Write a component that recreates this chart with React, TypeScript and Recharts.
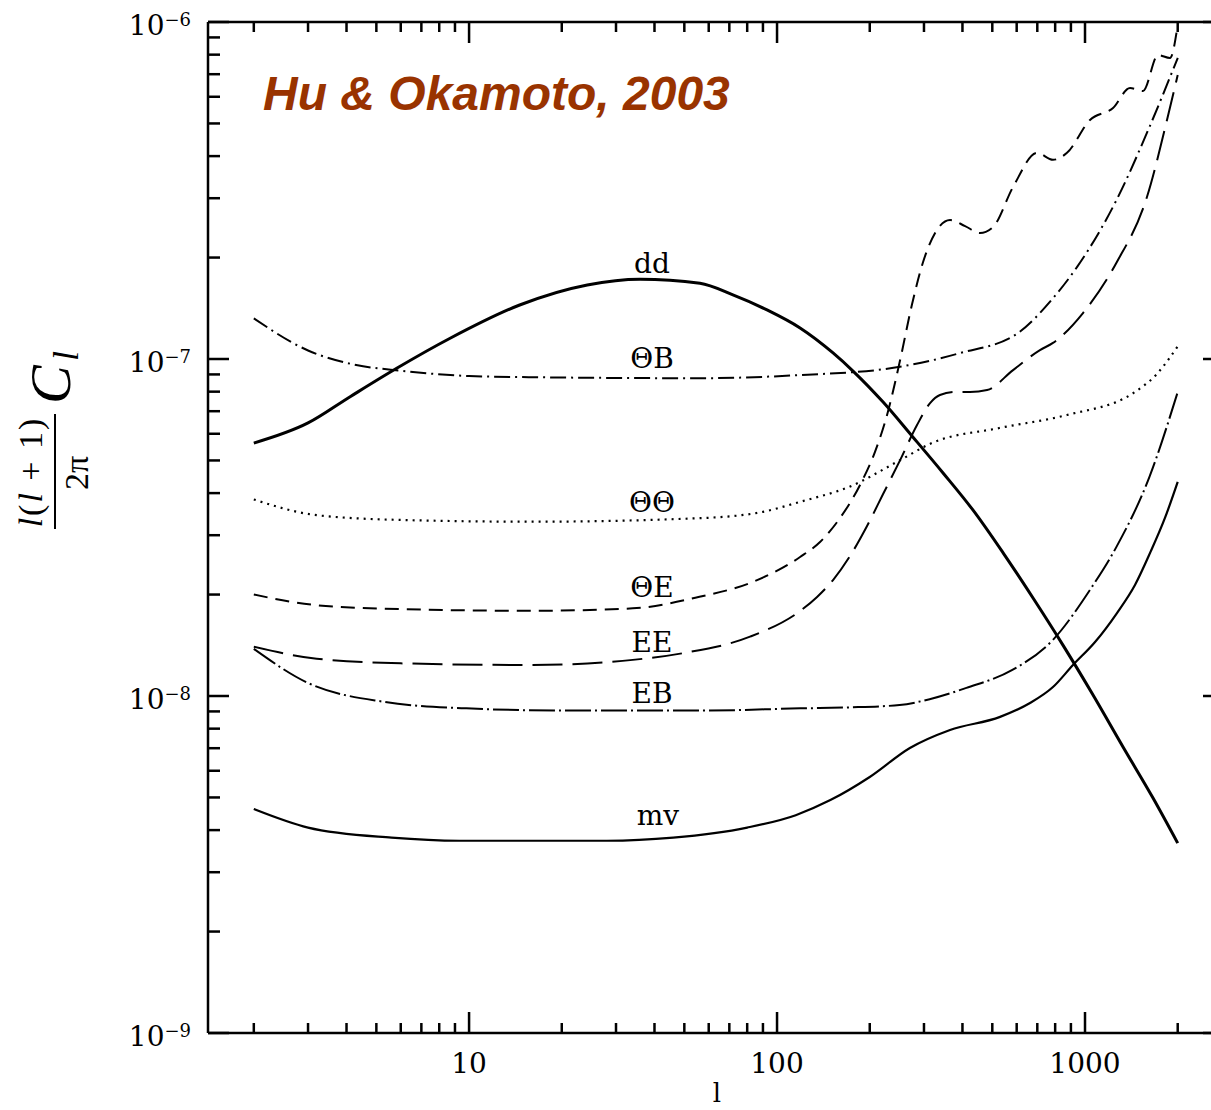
import { LineChart, Line, XAxis, YAxis, Customized } from "recharts"

// [l, l(l+1)C_l/2pi]
const dd = [
  [2, 5.63e-8], [3, 6.46e-8], [4.11, 7.73e-8], [5.84, 9.4e-8], [8.68, 1.152e-7], [14.6, 1.446e-7],
  [24.2, 1.658e-7], [35.9, 1.724e-7], [56.2, 1.677e-7], [71.9, 1.549e-7], [92.8, 1.398e-7],
  [118.8, 1.236e-7], [152, 1.042e-7], [176.5, 9.21e-8], [221, 7.45e-8], [276, 5.87e-8],
  [346, 4.59e-8], [433, 3.56e-8], [542, 2.66e-8], [678, 1.953e-8], [848, 1.416e-8],
  [1062, 1.007e-8], [1329, 7.06e-9], [1663, 4.98e-9], [2000, 3.66e-9],
]
const thetaB = [
  [2, 1.32e-7], [3, 1.06e-7], [4.3, 9.6e-8], [6, 9.23e-8], [10, 8.9e-8], [16, 8.83e-8],
  [56, 8.77e-8], [119, 8.96e-8], [236, 9.4e-8], [391, 1.04e-7], [603, 1.19e-7], [780, 1.5e-7],
  [944, 1.88e-7], [1265, 2.96e-7], [1619, 4.88e-7], [2000, 7.82e-7],
]
const thetaTheta = [
  [2, 3.83e-8], [3.2, 3.44e-8], [6, 3.33e-8], [16, 3.29e-8], [56, 3.37e-8], [90, 3.52e-8],
  [119, 3.77e-8], [172, 4.18e-8], [250, 5.0e-8], [318, 5.63e-8], [527, 6.24e-8], [873, 6.82e-8],
  [1437, 7.93e-8], [1700, 8.97e-8], [2000, 1.09e-7],
]
const thetaE = [
  [2, 2.0e-8], [3.2, 1.86e-8], [6, 1.81e-8], [16, 1.79e-8], [34, 1.82e-8], [56, 1.97e-8],
  [81.7, 2.164e-8], [118.8, 2.585e-8], [137.9, 2.864e-8], [160.2, 3.375e-8], [186, 4.23e-8],
  [208, 5.3e-8], [229, 6.96e-8], [251, 9.93e-8], [274, 1.446e-7], [298, 1.94e-7], [326, 2.366e-7],
  [364.5, 2.585e-7], [408, 2.48e-7], [456, 2.366e-7], [503, 2.465e-7], [584, 3.24e-7],
  [699, 4.09e-7], [787, 3.9e-7], [874, 4.09e-7], [1038, 5.12e-7], [1233, 5.56e-7], [1400, 6.37e-7],
  [1543, 6.24e-7], [1726, 7.98e-7], [1888, 7.82e-7], [2000, 9.8e-7],
]
const ee = [
  [2, 1.4e-8], [3.2, 1.29e-8], [6, 1.25e-8], [16, 1.236e-8], [34, 1.28e-8], [49.5, 1.34e-8],
  [81.7, 1.5e-8], [118.8, 1.787e-8], [134.9, 1.967e-8], [152, 2.209e-8], [172.6, 2.603e-8],
  [196, 3.195e-8], [221, 3.975e-8], [251, 5.01e-8], [284.8, 6.37e-8], [314, 7.4e-8], [338, 7.82e-8],
  [378, 7.98e-8], [423, 7.98e-8], [481, 8.09e-8], [584, 9.27e-8], [714, 1.063e-7], [787, 1.116e-7],
  [985, 1.369e-7], [1265, 1.93e-7], [1590, 3.03e-7], [1846, 5.12e-7], [2000, 6.96e-7],
]
const eb = [
  [2, 1.38e-8], [3, 1.093e-8], [5.25, 9.62e-9], [9.8, 9.19e-9], [21, 9.05e-9], [56, 9.05e-9],
  [119, 9.19e-9], [170, 9.25e-9], [250, 9.4e-9], [315, 9.8e-9], [412, 1.057e-8], [581, 1.195e-8],
  [786, 1.466e-8], [1036, 2.06e-8], [1265, 2.77e-8], [1619, 4.47e-8], [2000, 7.98e-8],
]
const mv = [
  [2, 4.62e-9], [3, 4.07e-9], [5.6, 3.8e-9], [9.3, 3.72e-9], [28, 3.72e-9], [46, 3.8e-9],
  [80, 4.07e-9], [115, 4.43e-9], [149, 4.91e-9], [200, 5.75e-9], [270, 7.01e-9], [364.5, 7.93e-9],
  [530, 8.67e-9], [663, 9.53e-9], [787, 1.063e-8], [914, 1.236e-8], [1078, 1.446e-8],
  [1270, 1.763e-8], [1453, 2.135e-8], [1626, 2.656e-8], [1818, 3.375e-8], [2000, 4.32e-8],
]

const xTicks = [
  2, 3, 4, 5, 6, 7, 8, 9, 10, 20, 30, 40, 50, 60, 70, 80, 90,
  100, 200, 300, 400, 500, 600, 700, 800, 900, 1000, 2000,
]
const xMajor = [10, 100, 1000]
const yTicks = [
  1e-9, 2e-9, 3e-9, 4e-9, 5e-9, 6e-9, 7e-9, 8e-9, 9e-9,
  1e-8, 2e-8, 3e-8, 4e-8, 5e-8, 6e-8, 7e-8, 8e-8, 9e-8,
  1e-7, 2e-7, 3e-7, 4e-7, 5e-7, 6e-7, 7e-7, 8e-7, 9e-7, 1e-6,
]
const yMajor = [1e-9, 1e-8, 1e-7, 1e-6]

const curveNames = ["dd", "ΘB", "ΘΘ", "ΘE", "EE", "EB", "mv"]
const labelSpots = [
  [652, 273], [652, 368], [652, 512], [652, 597], [652, 652], [652, 703], [658, 825],
]

const rows = (pts: number[][]) => pts.map(([l, v]) => ({ l, v }))

const serif = "'DejaVu Serif', serif"
const mathFont = "'Liberation Serif', 'Times New Roman', serif"
const ink = "#000"
const xDomain = [1.42, 2827]
const yDomain = [1e-9, 1e-6]

// tickSize/tickMargin are 0, so x/y arrive on the axis line; marks are drawn inward from there
function BottomTick({ x, y, payload }: any) {
  const major = xMajor.includes(payload.value)
  return (
    <g>
      <line x1={x} y1={y} x2={x} y2={y - (major ? 21 : 10)} stroke={ink} strokeWidth={2.5} />
      {major && (
        <text x={x} y={y + 40} textAnchor="middle" fontFamily={serif} fontSize={28} fill={ink}>
          {payload.value}
        </text>
      )}
    </g>
  )
}

function TopTick({ x, y, payload }: any) {
  const major = xMajor.includes(payload.value)
  return <line x1={x} y1={y} x2={x} y2={y + (major ? 21 : 10)} stroke={ink} strokeWidth={2.5} />
}

function LeftTick({ x, y, payload }: any) {
  const major = yMajor.includes(payload.value)
  const exp = Math.round(Math.log10(payload.value))
  return (
    <g>
      <line x1={x} y1={y} x2={x + (major ? 21 : 12)} y2={y} stroke={ink} strokeWidth={2.5} />
      {major && (
        <text x={x - 17} y={y + 13} textAnchor="end" fontFamily={serif} fontSize={28} fill={ink}>
          10
          <tspan dy={-9} fontSize={18}>{"−" + Math.abs(exp)}</tspan>
        </text>
      )}
    </g>
  )
}

function RightTick({ x, y, payload }: any) {
  const major = yMajor.includes(payload.value)
  return <line x1={x} y1={y} x2={x - (major ? 21 : 12)} y2={y} stroke={ink} strokeWidth={2.5} />
}

function Overlay() {
  return (
    <g>
      <text
        x={263}
        y={110}
        fontFamily="'Liberation Sans', Arial, sans-serif"
        fontWeight="bold"
        fontStyle="italic"
        fontSize={48}
        fill="#993300"
      >
        {"Hu & Okamoto, 2003"}
      </text>

      {curveNames.map((name, i) => (
        <text
          key={name}
          x={labelSpots[i][0]}
          y={labelSpots[i][1]}
          textAnchor="middle"
          fontFamily={serif}
          fontSize={28}
          fill={ink}
        >
          {name}
        </text>
      ))}

      <text x={717} y={1102} textAnchor="middle" fontFamily={serif} fontSize={26} fill={ink}>
        l
      </text>

      <g transform="translate(0,472) rotate(-90)" fontFamily={mathFont} fill={ink}>
        <text x={0} y={42} textAnchor="middle" fontSize={34} letterSpacing={2}>
          <tspan fontStyle="italic">l</tspan>(<tspan fontStyle="italic">l</tspan> + 1)
        </text>
        <line x1={-57} y1={55} x2={58} y2={55} stroke={ink} strokeWidth={2} />
        <text x={-1} y={88} textAnchor="middle" fontSize={34}>
          2π
        </text>
        <text x={68} y={70} fontSize={58} fontStyle="italic">
          C
        </text>
        <text x={111} y={78} fontSize={36} fontStyle="italic">
          l
        </text>
      </g>
    </g>
  )
}

const axisLine = { stroke: ink, strokeWidth: 2.5 }

export default function App() {
  return (
    <div
      style={{
        position: "absolute",
        left: 0,
        top: 0,
        width: 1211,
        height: 1110,
        overflow: "hidden",
        background: "#fff",
      }}
    >
      <LineChart width={1250} height={1110} margin={{ top: 0, right: 0, bottom: 0, left: 0 }}>
        <XAxis
          xAxisId="bottom"
          dataKey="l"
          type="number"
          scale="log"
          domain={xDomain}
          allowDataOverflow
          ticks={xTicks}
          interval={0}
          height={77}
          tickSize={0}
          tickMargin={0}
          tickLine={false}
          axisLine={axisLine}
          tick={<BottomTick />}
        />
        <XAxis
          xAxisId="top"
          orientation="top"
          dataKey="l"
          type="number"
          scale="log"
          domain={xDomain}
          allowDataOverflow
          ticks={xTicks}
          interval={0}
          height={22}
          tickSize={0}
          tickMargin={0}
          tickLine={false}
          axisLine={axisLine}
          tick={<TopTick />}
        />
        <YAxis
          yAxisId="left"
          type="number"
          scale="log"
          domain={yDomain}
          allowDataOverflow
          ticks={yTicks}
          interval={0}
          width={208}
          tickSize={0}
          tickMargin={0}
          tickLine={false}
          axisLine={axisLine}
          tick={<LeftTick />}
        />
        <YAxis
          yAxisId="right"
          orientation="right"
          type="number"
          scale="log"
          domain={yDomain}
          allowDataOverflow
          ticks={yTicks}
          interval={0}
          width={26}
          tickSize={0}
          tickMargin={0}
          tickLine={false}
          axisLine={axisLine}
          tick={<RightTick />}
        />

        <Line xAxisId="bottom" yAxisId="left" data={rows(dd)} dataKey="v" type="monotone"
          stroke={ink} strokeWidth={3} dot={false} activeDot={false} isAnimationActive={false} />
        <Line xAxisId="bottom" yAxisId="left" data={rows(thetaB)} dataKey="v" type="monotone"
          stroke={ink} strokeWidth={2} strokeDasharray="16 5 2 5" dot={false} activeDot={false} isAnimationActive={false} />
        <Line xAxisId="bottom" yAxisId="left" data={rows(thetaTheta)} dataKey="v" type="monotone"
          stroke={ink} strokeWidth={2.2} strokeDasharray="2 5" dot={false} activeDot={false} isAnimationActive={false} />
        <Line xAxisId="bottom" yAxisId="left" data={rows(thetaE)} dataKey="v" type="monotone"
          stroke={ink} strokeWidth={2} strokeDasharray="14 8" dot={false} activeDot={false} isAnimationActive={false} />
        <Line xAxisId="bottom" yAxisId="left" data={rows(ee)} dataKey="v" type="monotone"
          stroke={ink} strokeWidth={2} strokeDasharray="30 10" dot={false} activeDot={false} isAnimationActive={false} />
        <Line xAxisId="bottom" yAxisId="left" data={rows(eb)} dataKey="v" type="monotone"
          stroke={ink} strokeWidth={2} strokeDasharray="26 4 2 4" dot={false} activeDot={false} isAnimationActive={false} />
        <Line xAxisId="bottom" yAxisId="left" data={rows(mv)} dataKey="v" type="monotone"
          stroke={ink} strokeWidth={2.2} dot={false} activeDot={false} isAnimationActive={false} />

        <Customized component={Overlay} />
      </LineChart>
    </div>
  )
}
